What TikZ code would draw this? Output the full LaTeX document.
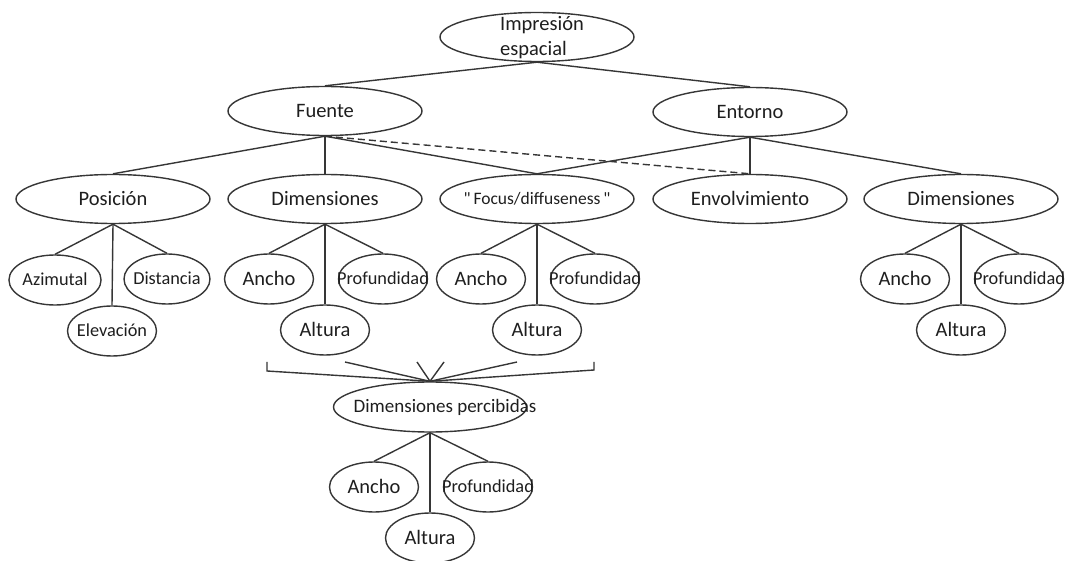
\documentclass[tikz,border=0pt]{standalone}
\usepackage{fontspec}
\newfontfamily\calib{Carlito}
\usetikzlibrary{shapes.geometric}
\definecolor{linegray}{HTML}{363636}
\definecolor{textgray}{HTML}{1E1E1E}
\tikzset{
  bignode/.style={ellipse,draw=linegray,line width=1.4pt,inner sep=0pt,minimum width=194pt,minimum height=49pt,
    text=textgray,text height=13pt,text depth=0pt,font=\calib\fontsize{20.5}{24.6}\selectfont},
  kidnode/.style={bignode,minimum width=89pt,minimum height=50pt},
  smalltext/.style={text height=11.8pt,font=\calib\fontsize{18.3}{22}\selectfont},
  link/.style={draw=linegray,line width=1.4pt},
  dashlink/.style={link,dash pattern=on 7pt off 4pt}
}

\begin{document}
\begin{tikzpicture}[x=1pt,y=-1pt]
  \useasboundingbox (0,0) rectangle (1069,561);
  % top levels
  \node[bignode] (root) at (537,37) {\smash{\makebox[0pt]{\hspace*{10pt}\begin{tabular}{@{}l@{}}Impresión\\espacial\end{tabular}}}};
  \node[bignode] (fuente) at (325,111) {Fuente};
  \node[bignode] (entorno) at (750,112) {Entorno};
  \node[bignode] (posicion) at (113,199) {Posición};
  \node[bignode] (dimf) at (325,199) {Dimensiones};
  \node[bignode,smalltext,font=\calib\fontsize{17.5}{21}\selectfont] (focus) at (537,199) {\makebox[0pt]{"\,Focus/diffuseness\,"}};
  \node[bignode] (envol) at (750,199) {Envolvimiento};
  \node[bignode] (dime) at (961,199) {Dimensiones};
  \draw[link] (root.south) -- (fuente.north);
  \draw[link] (root.south) -- (entorno.north);
  \foreach \k in {posicion,dimf,focus}{\draw[link] (fuente.south) -- (\k.north);}
  \foreach \k in {focus,envol,dime}{\draw[link] (entorno.south) -- (\k.north);}
  \draw[dashlink] (fuente.south) -- (envol.north);
  % posicion
  \node[kidnode,smalltext,minimum width=90pt] (azim) at (55,280) {Azimutal};
  \node[kidnode,smalltext,minimum width=86pt] (dist) at (167,279) {\makebox[0pt]{Distancia}};
  \node[kidnode,smalltext] (elev) at (112,331) {\makebox[0pt]{Elevación}};
  \foreach \k in {azim,dist,elev}{\draw[link] (posicion.south) -- (\k.north);}
  % percibidas
  \node[bignode,smalltext,font=\calib\fontsize{19}{23}\selectfont,minimum width=193pt,minimum height=50pt] (perc) at (430,407)
    {\makebox[0pt]{\hspace*{30pt}Dimensiones percibidas}};
  \coordinate (bl) at (267,362);
  \coordinate (br) at (594,362);
  \draw[link] (bl) -- ++(0,9) -- (perc.north);
  \draw[link] (br) -- ++(0,8) -- (perc.north);
  \foreach \x [count=\i] in {345,417,444,517}{
    \coordinate (tick\i) at (\x,362);
    \draw[link] (tick\i) -- (perc.north);
  }
  % ancho / profundidad / altura
  \foreach \p/\x/\y in {dimf/325/279,focus/537/279,dime/961/279,perc/430/487}{
    \node[kidnode] (\p-an) at (\x-56,\y) {Ancho};
    \node[kidnode,smalltext] (\p-pr) at (\x+58,\y) {\makebox[0pt]{Profundidad}};
    \node[kidnode] (\p-al) at (\x,\y+51) {Altura};
    \foreach \q in {an,pr,al}{\draw[link] (\p.south) -- (\p-\q.north);}
  }
\end{tikzpicture}
\end{document}
